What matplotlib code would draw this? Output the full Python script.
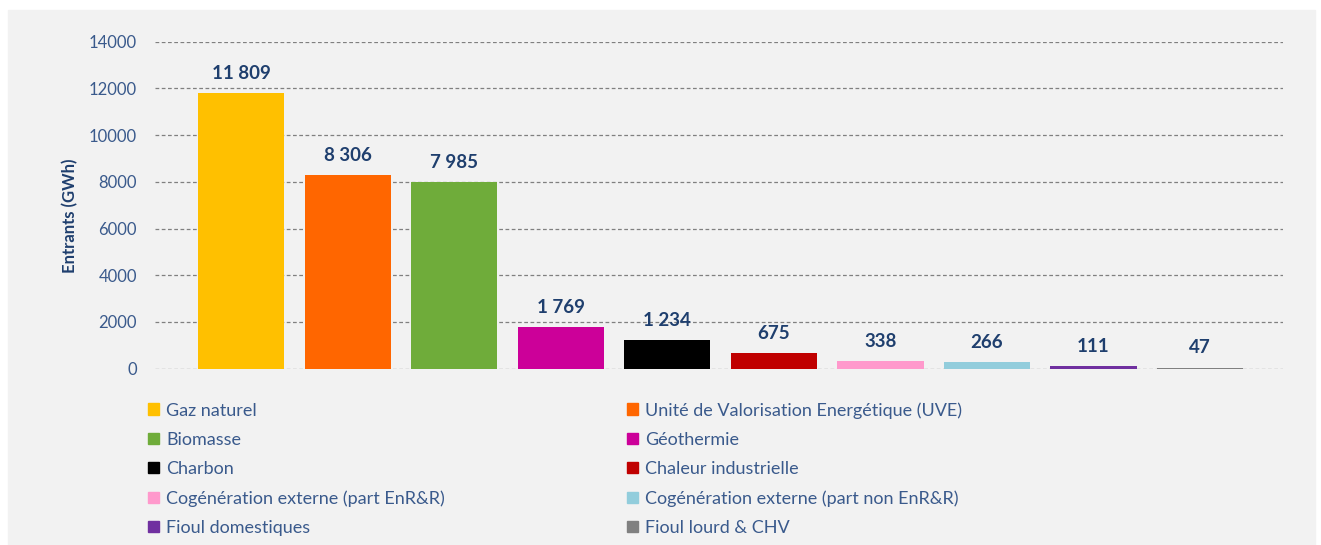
import matplotlib.pyplot as plt
import numpy as np
from matplotlib.patches import Rectangle, Patch

# ------------------------------------------------------------------ données

categories = ["Gaz naturel", "Unité de Valorisation Energétique (UVE)",
              "Biomasse", "Géothermie", "Charbon", "Chaleur industrielle",
              "Cogénération externe (part EnR&R)",
              "Cogénération externe (part non EnR&R)",
              "Fioul domestiques", "Fioul lourd & CHV"]
values = [11809, 8306, 7985, 1769, 1234, 675, 338, 266, 111, 47]
colors = ["#FFC000", "#FF6600", "#6FAC3A", "#CC0099", "#000000", "#C00000",
          "#FF99CC", "#92CDDC", "#7030A0", "#808080"]
yticks = [0, 2000, 4000, 6000, 8000, 10000, 12000, 14000]

TICK_C = "#3A5A8C"
LABEL_C = "#1F3F6E"

plt.rcParams["font.family"] = ["Lato", "DejaVu Sans"]

fig = plt.figure(figsize=(13.21, 5.45), dpi=100)
fig.patches.append(Rectangle((8 / 1321, 0), 1307 / 1321, 1 - 10 / 545,
                             transform=fig.transFigure, color="#F2F2F2",
                             zorder=-10))
ax = fig.add_axes([155 / 1321, 1 - 368.6 / 545, 1128 / 1321,
                   (368.6 - 41.7) / 545])
ax.set_facecolor("none")

x = np.arange(len(values))
ax.bar(x, values, width=0.81, color=colors, zorder=3)
for xi, v in zip(x, values):
    ax.annotate(f"{v:,}".replace(",", " "), (xi, v), xytext=(0, 8),
                textcoords="offset points", ha="center", va="bottom",
                fontsize=13.5, fontweight="bold", color=LABEL_C)

ax.set_xlim(-0.81, 9.78)
ax.set_ylim(0, 14000)
ax.set_yticks(yticks)
ax.set_xticks([])
ax.grid(axis="y", ls=(0, (3, 2)), color="#808080", lw=0.9, zorder=0)
for s in ax.spines.values():
    s.set_visible(False)
ax.tick_params(axis="y", length=0, pad=13, labelsize=12, labelcolor=TICK_C)
ax.set_ylabel("Entrants (GWh)", fontsize=12, fontweight="bold",
              color=LABEL_C, va="center")
ax.yaxis.set_label_coords(-0.0754, 0.467)

# légende sur 2 colonnes, remplie ligne par ligne
order = [0, 2, 4, 6, 8, 1, 3, 5, 7, 9]
handles = [Patch(color=colors[i], label=categories[i]) for i in order]
fig.legend(handles=handles, loc="upper left",
           bbox_to_anchor=(148 / 1321, 1 - 402 / 545), ncol=2,
           frameon=False, fontsize=13, labelcolor=TICK_C,
           handlelength=0.6, handleheight=0.6, handletextpad=0.4,
           labelspacing=0.73, columnspacing=10.1, borderpad=0,
           borderaxespad=0)

fig.savefig("out.png", dpi=100)
